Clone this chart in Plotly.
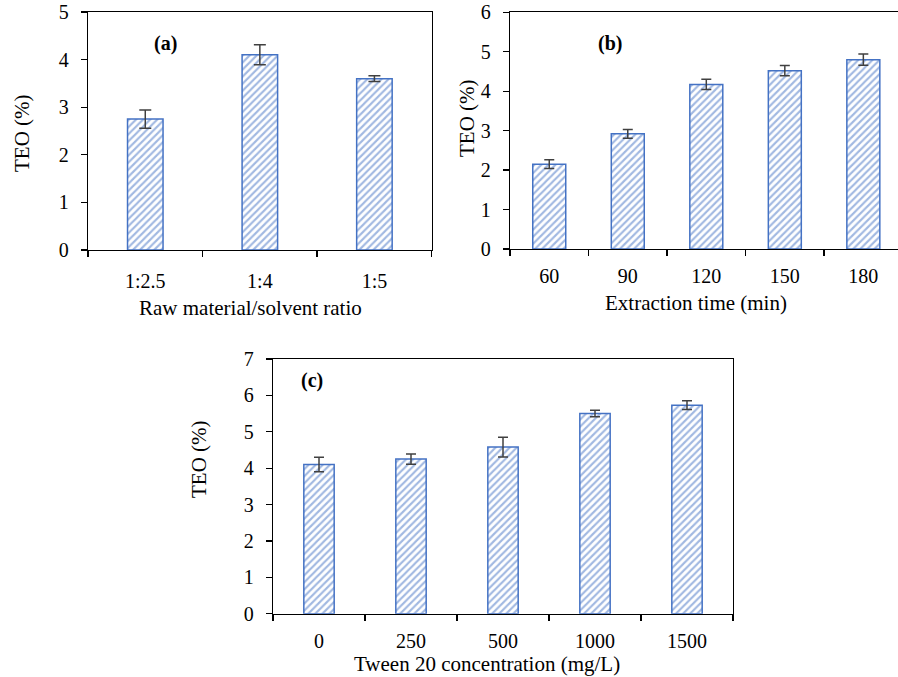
import plotly.graph_objects as go

# ---- data ----
ratio_labels = ["1:2.5", "1:4", "1:5"]
ratio_teo = [2.75, 4.10, 3.60]
ratio_err = [0.19, 0.21, 0.06]

time_labels = ["60", "90", "120", "150", "180"]
time_teo = [2.15, 2.92, 4.17, 4.52, 4.80]
time_err = [0.11, 0.11, 0.13, 0.13, 0.14]

tween_labels = ["0", "250", "500", "1000", "1500"]
tween_teo = [4.10, 4.25, 4.58, 5.50, 5.73]
tween_err = [0.20, 0.14, 0.27, 0.09, 0.12]

W, H = 898, 677
BLUE = "#4472C4"
FONT = "Liberation Serif"


def px(x):
    return x / W


def py(y):
    return 1 - y / H


def bar(x, y, err, xa, ya, width, errw):
    return go.Bar(
        x=x, y=y, xaxis=xa, yaxis=ya, width=width,
        marker=dict(color="white", line=dict(color=BLUE, width=1.5),
                    pattern=dict(shape="/", fgcolor=BLUE, bgcolor="white",
                                 size=5, solidity=0.42)),
        error_y=dict(type="data", array=err, visible=True, color="#404040",
                     thickness=1.5, width=errw),
        showlegend=False, hoverinfo="x+y",
    )


fig = go.Figure()
fig.add_trace(bar(ratio_labels, ratio_teo, ratio_err, "x", "y", 0.31, 6))
fig.add_trace(bar(time_labels, time_teo, time_err, "x2", "y2", 0.42, 5))
fig.add_trace(bar(tween_labels, tween_teo, tween_err, "x3", "y3", 0.33, 5))

tickfont = dict(family=FONT, size=20, color="black")


def xax(domain, anchor, rng, standoff, mirror=True):
    return dict(domain=domain, anchor=anchor, type="category", range=rng,
                showline=True, linecolor="black", linewidth=1.3, mirror=mirror,
                ticks="outside", tickson="boundaries", ticklen=6,
                tickcolor="black", tickwidth=1.3, ticklabelstandoff=standoff,
                showgrid=False, tickfont=tickfont, zeroline=False,
                fixedrange=True, automargin=False)


def yax(domain, anchor, rng, mirror=True):
    return dict(domain=domain, anchor=anchor, range=rng, dtick=1,
                showline=True, linecolor="black", linewidth=1.3, mirror=mirror,
                ticks="outside", ticklen=6, tickcolor="black", tickwidth=1.3,
                ticklabelstandoff=8, showgrid=False, zeroline=False,
                tickfont=tickfont, fixedrange=True, automargin=False)


fig.update_layout(
    width=W, height=H,
    margin=dict(l=0, r=0, t=0, b=0, pad=0, autoexpand=False),
    paper_bgcolor="white", plot_bgcolor="white",
    xaxis=xax([px(88), px(431.7)], "y", [-0.5, 2.5], 13),
    yaxis=yax([py(250), py(12)], "x", [0, 5]),
    xaxis2=xax([px(510), 1.0], "y2", [-0.5, 4.5 - 4.6 / 78.5], 9),
    yaxis2=yax([py(249), py(12.3)], "x2", [0, 6], mirror=False),
    xaxis3=xax([px(273), px(733)], "y3", [-0.5, 4.5], 9),
    yaxis3=yax([py(613.7), py(359)], "x3", [0, 7]),
)

titlefont = dict(family=FONT, size=21, color="black")
labfont = dict(family=FONT, size=20, color="black")

annotations = [
    # y titles
    dict(x=px(22), y=py(133), text="TEO (%)", textangle=-90),
    dict(x=px(467), y=py(118), text="TEO (%)", textangle=-90),
    dict(x=px(199), y=py(459), text="TEO (%)", textangle=-90),
    # x titles
    dict(x=px(250), y=py(308), text="Raw material/solvent ratio"),
    dict(x=px(696), y=py(303), text="Extraction time (min)"),
    dict(x=px(487), y=py(664), text="Tween 20 concentration (mg/L)"),
]
for a in annotations:
    a.update(xref="paper", yref="paper", showarrow=False, font=titlefont,
             xanchor="center", yanchor="middle")

panel_labels = [
    dict(x=px(165), y=py(44), text="<b>(a)</b>"),
    dict(x=px(610), y=py(44), text="<b>(b)</b>"),
    dict(x=px(312), y=py(381), text="<b>(c)</b>"),
]
for a in panel_labels:
    a.update(xref="paper", yref="paper", showarrow=False, font=labfont,
             xanchor="center", yanchor="middle")

fig.update_layout(annotations=annotations + panel_labels)

fig.write_html(
    "out.html",
    config={"displayModeBar": False, "staticPlot": True},
    post_script="document.body.style.margin='0';document.body.style.overflow='hidden';",
)
